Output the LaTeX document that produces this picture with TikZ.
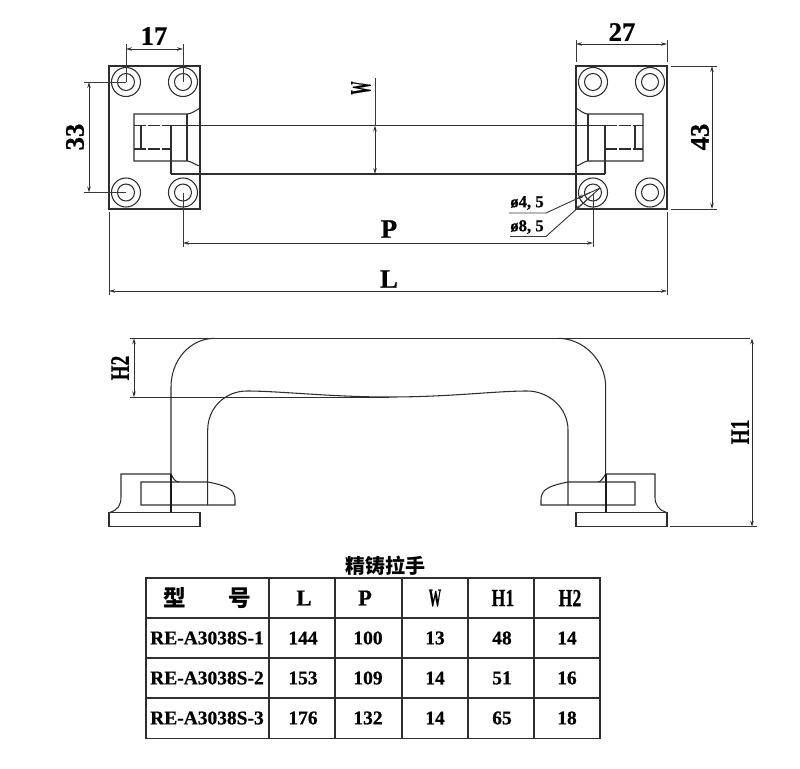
\documentclass[tikz,border=0pt]{standalone}
\usepackage{fontspec}
\setmainfont{Liberation Serif}[BoldFeatures={FakeBold=0.7}]
\newfontfamily\cjk{Noto Sans CJK SC Black}
\usetikzlibrary{arrows.meta}
\tikzset{
  ln/.style={line width=0.8pt,black!82},
  thin/.style={line width=0.7pt,black!78},
  dashln/.style={line width=0.8pt,black!82,dash pattern=on 9pt off 1.5pt},
  tip/.style={-{Stealth[length=4.5pt,width=2.6pt]}},
  dimn/.style={line width=0.7pt,black!82,{Stealth[length=4.5pt,width=2.6pt]}-{Stealth[length=4.5pt,width=2.6pt]}},
  big/.style={inner sep=0pt,font=\fontsize{20}{20}\selectfont\bfseries},
  tall/.style={inner sep=0pt,font=\fontsize{20}{20}\selectfont\bfseries,xscale=0.72,transform shape},
  cell/.style={inner sep=0pt,font=\fontsize{14.6}{14.6}\selectfont\bfseries},
  head/.style={inner sep=0pt,font=\fontsize{17}{17}\selectfont\bfseries},
  headtall/.style={inner sep=0pt,font=\fontsize{18.5}{18.5}\selectfont\bfseries,xscale=0.72,transform shape},
  small/.style={inner sep=0pt,font=\fontsize{12.5}{12.5}\selectfont\bfseries},
  cjkhead/.style={inner sep=0pt,font=\fontsize{17}{17}\selectfont\cjk},
}
\begin{document}
\begin{tikzpicture}[x=0.75pt,y=-0.75pt]
\useasboundingbox (0,0) rectangle (800,768);
% --- top view: plates
\draw[ln] (109,66) rectangle (200,209);
\draw[ln] (576,66) rectangle (667,209);
\foreach \cx/\cy in {126/82,183/82,126/192.5,183/192.5,593/82,650/82,593/192.5,650/192.5}{
  \draw[ln] (\cx,\cy) circle (14.5);
  \draw[ln] (\cx,\cy) circle (8.5);
}
% left bracket
\draw[ln] (200,108) .. controls (195,111) and (191,114) .. (187,114) -- (134,114) -- (134,161) -- (187,161) .. controls (191,161) and (195,165) .. (200,166);
\draw[ln] (187,114) -- (187,161);
\draw[dashln] (134,125.5) -- (171,125.5);
\draw[dashln] (134,149) -- (171,149);
\draw[ln] (141,125.5) -- (141,149);
\draw[ln] (171,125.5) -- (171,174);
% right bracket
\draw[ln] (576,108) .. controls (581,111) and (584,114) .. (588,114) -- (643,114) -- (643,161) -- (588,161) .. controls (584,161) and (581,165) .. (576,166);
\draw[ln] (588,114) -- (588,161);
\draw[dashln] (605,125.5) -- (643,125.5);
\draw[dashln] (605,149) -- (643,149);
\draw[ln] (635,125.5) -- (635,149);
\draw[ln] (605,125.5) -- (605,174);
% bar
\draw[ln] (171,125.5) -- (605,125.5);
\draw[ln] (171,174) -- (605,174);
% --- dims top
\draw[thin] (126,44) -- (126,82);
\draw[thin] (183,44) -- (183,82);
\draw[dimn] (126,49) -- (183,49);
\node[big] (d17) at (154,36) {17};
\draw[thin] (576,40) -- (576,62);
\draw[thin] (667,40) -- (667,62);
\draw[dimn] (576,44) -- (667,44);
\node[big] (d27) at (622,32) {27};
\draw[thin] (84,82) -- (126,82);
\draw[thin] (84,192.5) -- (126,192.5);
\draw[dimn] (89,82) -- (89,192.5);
\node[big,rotate=90] (d33) at (75,137) {33};
\draw[thin] (671,66) -- (717,66);
\draw[thin] (671,209) -- (717,209);
\draw[dimn] (712,66) -- (712,209);
\node[big,rotate=90] (d43) at (700,137) {43};
\draw[thin] (375,78) -- (375,125.5);
\draw[dimn] (375,125.5) -- (375,174);
\node[rotate=90,inner sep=0pt,font=\fontsize{22}{22}\selectfont\bfseries,xscale=0.45,transform shape] (dW) at (361,88) {W};
\draw[thin] (183,192.5) -- (183,247);
\draw[thin] (593,192.5) -- (593,247);
\draw[dimn] (183,243) -- (593,243);
\node[big] (dP) at (389,229) {P};
\draw[thin] (109,212) -- (109,295);
\draw[thin] (667,212) -- (667,295);
\draw[dimn] (109,291) -- (667,291);
\node[big] (dL) at (389,279) {L};
% leaders
\draw[thin] (509,213) -- (546,213) -- (600,188);
\draw[thin] (510,236.5) -- (546,236.5) -- (600,188);
\draw[thin,tip] (590,192.6) -- (577,198.6);
\draw[thin,tip] (590,197) -- (575,210.5);
\node[small] (d45) at (527,203) {ø4, 5};
\node[small] (d85) at (527,227) {ø8, 5};
% --- side view
\draw[ln] (130,338.3) -- (750,338.3);
\draw[ln] (130,397.3) -- (389,397.3);
\draw[dimn] (134,338.3) -- (134,397.3);
\node[rotate=90,tall] (dH2) at (120,368) {H2};
\draw[ln] (215,338.3) .. controls (190,338.3) and (171,360) .. (171,387) -- (171,512);
\draw[ln] (558,338.3) .. controls (583,338.3) and (605.7,360) .. (605.7,387) -- (605.7,512);
\draw[ln] (207.7,505) -- (207.7,430) .. controls (207.7,408) and (225,391) .. (247,391) .. controls (280,391) and (330,397) .. (389,397) .. controls (450,397) and (495,391) .. (527,391) .. controls (549,391) and (568,408) .. (568,430) -- (568,505);
% left base
\draw[ln] (109,512.3) rectangle (200,526.7);
\draw[ln] (110,512.3) .. controls (118,510) and (121,505) .. (121,497) -- (121,474) -- (171,474) .. controls (173,478) and (175,482) .. (179,482);
\draw[ln] (141,505) -- (141,482) -- (208,482) .. controls (218,484) and (226,486) .. (231,490) .. controls (234,493) and (235,496) .. (235,500) -- (235,505) -- cycle;
\draw[line width=1.6pt,black!90] (171,474) -- (171,512);
% right base
\draw[ln] (576,512.3) rectangle (667,526.7);
\draw[ln] (666,512.3) .. controls (659,510) and (655,505) .. (655,497) -- (655,474) -- (605.7,474) .. controls (603,478) and (601,482) .. (598,482);
\draw[ln] (635,482) -- (568,482) .. controls (558,484) and (550,486) .. (545,490) .. controls (542,493) and (541,496) .. (541,500) -- (541,505) -- (635,505) -- cycle;
\draw[line width=1.6pt,black!90] (605.7,474) -- (605.7,512);
% H1
\draw[thin] (670,526.7) -- (757,526.7);
\draw[dimn] (752,338.3) -- (752,526.7);
\node[rotate=90,tall] (dH1) at (740,432) {H1};
% --- table
\node[inner sep=0pt,font=\fontsize{15}{15}\selectfont\cjk] (title) at (385,566) {精铸拉手};
\draw[line width=1pt,black!82] (146,578) rectangle (600,738.7);
\foreach \x in {269,335,402,468,534}{ \draw[line width=1pt,black!82] (\x,578) -- (\x,738.7); }
\foreach \y in {618,658,698}{ \draw[line width=1pt,black!82] (146,\y) -- (600,\y); }
\node[cjkhead] (hA) at (175,598) {型};
\node[cjkhead] (hB) at (240,598) {号};
\node[head] (hL) at (304,598) {L};
\node[head] (hP) at (365,598) {P};
\node[inner sep=0pt,font=\fontsize{19}{19}\selectfont\bfseries,xscale=0.5,transform shape] (hW) at (435,598) {W};
\node[headtall] (hH1) at (503,598) {H1};
\node[headtall] (hH2) at (570,598) {H2};
\foreach \yy/\m/\a/\b/\c/\d/\e [count=\i] in {638/1/144/100/13/48/14,678/2/153/109/14/51/16,718/3/176/132/14/65/18}{
  \node[cell] (m\i) at (207,\yy) {RE-A3038S-\m};
  \node[cell] (a\i) at (303,\yy) {\a};
  \node[cell] (b\i) at (368,\yy) {\b};
  \node[cell] (c\i) at (435,\yy) {\c};
  \node[cell] (d\i) at (502,\yy) {\d};
  \node[cell] (e\i) at (567,\yy) {\e};
}
\end{tikzpicture}
\end{document}
